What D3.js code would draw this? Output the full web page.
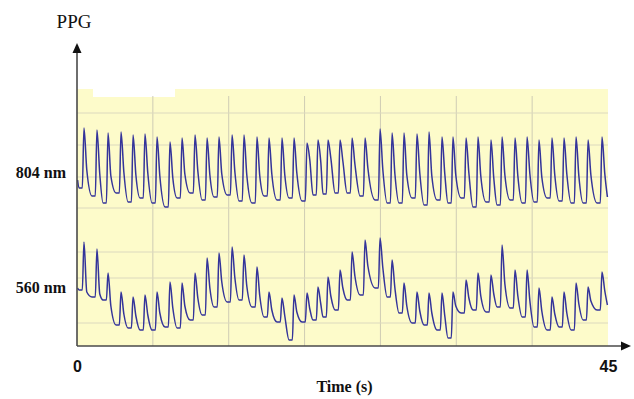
<!DOCTYPE html>
<html><head><meta charset="utf-8">
<script src="https://cdn.jsdelivr.net/npm/d3@7"></script>
<style>body{margin:0;background:#fff} svg{display:block}</style>
</head><body>
<svg id="c" width="634" height="399"></svg>
<script>
// Heartbeat (systolic peak) times, seconds
const beatTimes = [0.59,1.69,2.63,3.73,4.75,5.76,6.78,7.88,8.90,10.00,11.02,12.03,13.14,14.15,15.25,16.27,17.37,18.39,19.49,20.42,21.27,22.29,23.31,24.41,25.68,26.70,27.71,28.81,29.83,30.93,31.86,32.97,33.98,35.08,36.02,37.12,38.14,39.15,40.25,41.27,42.29,43.31,44.49];

// 804 nm channel (arbitrary PPG units)
const peak804  = [218,216,213,214,211,212,209,204,208,211,208,209,211,211,209,208,208,208,203,206,206,206,208,208,217,213,213,212,214,209,209,208,209,206,209,208,209,206,208,208,209,206,209];
const notch804 = [176,172,170,174,171,173,170,168,172,175,171,172,174,171,170,172,171,173,186,184,188,185,182,178,176,172,171,173,170,172,171,173,170,168,171,170,172,169,171,172,170,171,172];
const foot804  = [158,150,143,153,144,148,143,139,148,153,146,149,151,145,143,150,146,148,145,151,152,153,153,150,146,143,143,148,141,146,143,148,139,144,141,146,143,144,148,145,143,143,143];
const start804 = 166, end804 = 149;

// 560 nm channel (arbitrary PPG units)
const peak560  = [104,97,73,54,49,51,54,64,63,73,88,93,99,91,79,54,48,51,53,59,69,76,94,106,108,86,63,54,53,53,54,66,73,71,101,76,76,58,49,54,63,59,74];
const notch560 = [54,52,40,32,30,31,33,38,40,48,58,64,68,60,50,36,30,34,37,42,50,58,70,80,78,58,40,35,33,30,40,48,50,52,62,50,45,35,32,33,42,45,55];
const foot560  = [56,49,46,21,18,16,16,19,18,26,31,39,44,46,39,29,24,6,24,26,29,36,46,51,58,49,33,23,21,16,8,33,36,34,39,38,29,19,16,19,16,26,36];
const start560 = 58, end560 = 41;

const timeTicks = [0, 45];
const gridLevels = [23, 68, 94, 138, 169, 201, 233];
const channelLabels = [{text:"804 nm", level:174}, {text:"560 nm", level:59}];

const svg = d3.select("#c");
const x = d3.scaleLinear().domain([0,45]).range([77,608]);
const y = d3.scaleLinear().domain([0,258]).range([346,88]);

// background
svg.append("rect").attr("x",x(0)).attr("y",y(258)+1).attr("width",x(45)-x(0)).attr("height",y(0)-y(258)-1).attr("fill","#fdfbca");
svg.append("rect").attr("x",93).attr("y",y(258)).attr("width",82).attr("height",9).attr("fill","#ffffff");

// grid
const gridTimes = d3.range(1,7).map(i=>i*45/7);
svg.append("g").selectAll("line").data(gridTimes).join("line")
  .attr("x1",d=>x(d)).attr("x2",d=>x(d)).attr("y1",y(250)).attr("y2",y(0))
  .attr("stroke","#cfccb4").attr("stroke-width",1);
svg.append("g").selectAll("line").data(gridLevels).join("line")
  .attr("x1",x(0)).attr("x2",x(45)).attr("y1",d=>y(d)).attr("y2",d=>y(d))
  .attr("stroke","#dcd9be").attr("stroke-width",1);

function build(peaks, notches, feet, s, e){
  const pts = [[0.05, s]];
  beatTimes.forEach((t,i)=>{
    pts.push([t-0.42, feet[i]]);
    pts.push([t-0.14, feet[i]]);
    pts.push([t, peaks[i]]);
    pts.push([t+0.24, notches[i]]);
  });
  pts.push([44.95, e]);
  return pts;
}
const line = d3.line().x(d=>x(d[0])).y(d=>y(d[1])).curve(d3.curveMonotoneX);
[[peak804,notch804,foot804,start804,end804],[peak560,notch560,foot560,start560,end560]].forEach(a=>{
  svg.append("path").attr("d", line(build(...a)))
    .attr("fill","none").attr("stroke","#34349a").attr("stroke-width",1.5).attr("stroke-linejoin","round");
});

// axes
const xAxis = d3.axisBottom(x).tickValues(timeTicks).tickSize(0).tickPadding(15).tickFormat(d3.format("d"));
const gx = svg.append("g").attr("transform",`translate(0,${y(0)})`).call(xAxis);
gx.select(".domain").remove();
gx.selectAll("text").attr("font-family","Liberation Sans, Arial, sans-serif").attr("font-weight","bold").attr("font-size",16).attr("fill","#111");

svg.append("line").attr("x1",x(0)).attr("x2",622).attr("y1",y(0)).attr("y2",y(0)).attr("stroke","#4a4a4a").attr("stroke-width",1.6);
svg.append("line").attr("x1",x(0)).attr("x2",x(0)).attr("y1",y(0)).attr("y2",52).attr("stroke","#4a4a4a").attr("stroke-width",1.6);
svg.append("path").attr("d",`M631,${y(0)} L621,${y(0)-4.5} L621,${y(0)+4.5} Z`).attr("fill","#111");
svg.append("path").attr("d",`M${x(0)},43 L${x(0)-4.5},53 L${x(0)+4.5},53 Z`).attr("fill","#111");

svg.append("text").attr("x",74).attr("y",28).attr("text-anchor","middle")
  .attr("font-family","Liberation Serif, Times New Roman, serif").attr("font-size",19).attr("fill","#111").text("PPG");
svg.append("text").attr("x",x(22.5)+2).attr("y",392).attr("text-anchor","middle")
  .attr("font-family","Liberation Serif, Times New Roman, serif").attr("font-weight","bold").attr("font-size",16).attr("fill","#111").text("Time (s)");
svg.append("g").selectAll("text").data(channelLabels).join("text")
  .attr("x",66).attr("y",d=>y(d.level)+6).attr("text-anchor","end")
  .attr("font-family","Liberation Serif, Times New Roman, serif").attr("font-weight","bold").attr("font-size",16).attr("fill","#111")
  .text(d=>d.text);
</script>
</body></html>
